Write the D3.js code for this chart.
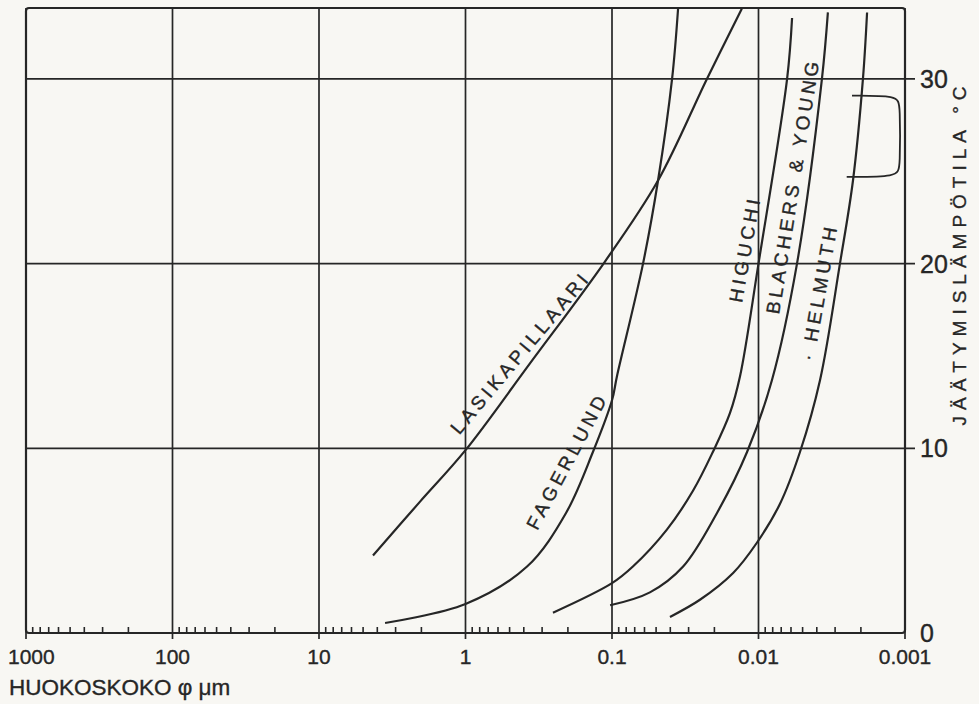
<!DOCTYPE html>
<html>
<head>
<meta charset="utf-8">
<script src="https://cdn.jsdelivr.net/npm/d3@7"></script>
<style>
    body { margin: 0; background: #f8f7f3; }
    svg { display: block; }
    text { font-family: "Liberation Sans", Arial, sans-serif; fill: #262626; stroke: #262626; stroke-width: 0.35px; }
</style>
</head>
<body>
<svg id="chart" width="979" height="704"></svg>
<script>
// pore size (um) on a reversed log axis, freezing temperature (C) on the right
var sizeTicks = [1000, 100, 10, 1, 0.1, 0.01, 0.001];
var sizeLabels = ["1000", "100", "10", "1", "0.1", "0.01", "0.001"];
var tempTicks = [0, 10, 20, 30];

var lasikapillaari = [[4.28, 4.2], [2.05, 7.1], [1.0, 9.9], [0.363, 14.6], [0.112, 20.1], [0.0485, 24.5], [0.0225, 30.0], [0.013, 33.8]];
var fagerlund = [[3.54, 0.54], [1.0, 1.57], [0.38, 3.6], [0.206, 6.5], [0.135, 9.8], [0.1, 12.6], [0.0925, 13.9], [0.0614, 20.0], [0.0485, 24.5], [0.0389, 30.0], [0.0354, 33.8]];
var higuchi = [[0.253, 1.1], [0.1, 2.7], [0.072, 3.6], [0.0422, 5.6], [0.028, 7.7], [0.0205, 9.8], [0.01567, 11.9], [0.01337, 13.9], [0.01, 20.0], [0.00638, 30.0], [0.0059, 33.3]];
var blachersYoung = [[0.103, 1.5], [0.0551, 2.2], [0.0327, 3.6], [0.0192, 6.5], [0.01197, 9.8], [0.00809, 13.7], [0.00546, 20.0], [0.00369, 30.0], [0.00336, 33.6]];
var helmuth = [[0.0402, 0.87], [0.0251, 1.8], [0.0149, 3.25], [0.01023, 4.9], [0.00713, 7.0], [0.00521, 9.8], [0.0038, 13.7], [0.00278, 20.0], [0.002265, 24.5], [0.001937, 30.0], [0.001815, 33.6]];

// hand drawn bracket near the right edge
var bracket = [[0.0023, 29.1], [0.00112, 29.1], [0.00108, 28.6], [0.00108, 25.2], [0.00112, 24.7], [0.0025, 24.7]];

var curveNames = ["LASIKAPILLAARI", "FAGERLUND", "HIGUCHI", "BLACHERS & YOUNG", "· HELMUTH"];
var labelSizes = [0.3895, 0.1846, 0.01118, 0.00526, 0.00348];
var labelTemps = [14.96, 9.15, 20.74, 24.15, 18.4];
var labelAngles = [-50, -62, -80, -81, -80];

var svg = d3.select("#chart");
var ink = "#262626";

var x = d3.scaleLog().domain([1000, 0.001]).range([26, 905]);
var y = d3.scaleLinear().domain([0, 33.84]).range([633, 8]);

var line = d3.line()
    .x(function(d) { return x(d[0]); })
    .y(function(d) { return y(d[1]); })
    .curve(d3.curveCatmullRom.alpha(0.5));

// vertical decade lines, a bit longer than the frame at the bottom
svg.append("g")
    .selectAll("line")
    .data(sizeTicks)
    .enter()
    .append("line")
    .attr("x1", function(d) { return x(d); })
    .attr("x2", function(d) { return x(d); })
    .attr("y1", y(33.84))
    .attr("y2", y(0) + 6)
    .attr("stroke", ink)
    .attr("stroke-width", 1.7)
;

// horizontal lines, running out past the frame as ticks
svg.append("g")
    .selectAll("line")
    .data(tempTicks.filter(function(d) { return d > 0; }))
    .enter()
    .append("line")
    .attr("x1", x(1000))
    .attr("x2", x(0.001) + 10)
    .attr("y1", function(d) { return y(d); })
    .attr("y2", function(d) { return y(d); })
    .attr("stroke", ink)
    .attr("stroke-width", 1.7)
;

// frame
svg.append("rect")
    .attr("x", x(1000))
    .attr("y", y(33.84))
    .attr("width", x(0.001) - x(1000))
    .attr("height", y(0) - y(33.84))
    .attr("rx", 3)
    .attr("fill", "none")
    .attr("stroke", ink)
    .attr("stroke-width", 2.2)
;

// minor log ticks on the bottom edge
var minor = [];
sizeTicks.slice(1).forEach(function(d) {
    for (var k = 2; k <= 9; k++) minor.push(d * k);
});
svg.append("g")
    .selectAll("line")
    .data(minor)
    .enter()
    .append("line")
    .attr("x1", function(d) { return x(d); })
    .attr("x2", function(d) { return x(d); })
    .attr("y1", y(0))
    .attr("y2", y(0) - 6)
    .attr("stroke", ink)
    .attr("stroke-width", 1.6)
;

// curves
var series = [lasikapillaari, fagerlund, higuchi, blachersYoung, helmuth];
svg.append("g")
    .selectAll("path")
    .data(series)
    .enter()
    .append("path")
    .attr("d", line)
    .attr("fill", "none")
    .attr("stroke", ink)
    .attr("stroke-width", 2.2)
;

svg.append("path")
    .attr("d", d3.line()
        .x(function(d) { return x(d[0]); })
        .y(function(d) { return y(d[1]); })
        .curve(d3.curveBasis)(bracket))
    .attr("fill", "none")
    .attr("stroke", ink)
    .attr("stroke-width", 1.8)
;

// curve names
svg.append("g")
    .selectAll("text")
    .data(curveNames)
    .enter()
    .append("text")
    .attr("transform", function(d, i) {
        return "translate(" + x(labelSizes[i]) + "," + y(labelTemps[i]) + ") rotate(" + labelAngles[i] + ")";
    })
    .attr("text-anchor", "middle")
    .style("font-size", "19px")
    .style("letter-spacing", "4px")
    .text(function(d) { return d; })
;

// bottom tick labels
svg.append("g")
    .selectAll("text")
    .data(sizeTicks)
    .enter()
    .append("text")
    .attr("x", function(d, i) { return i === 0 ? 8 : x(d); })
    .attr("y", 664)
    .attr("text-anchor", function(d, i) { return i === 0 ? "start" : "middle"; })
    .style("font-size", "21px")
    .text(function(d, i) { return sizeLabels[i]; })
;

// right tick labels
svg.append("g")
    .selectAll("text")
    .data(tempTicks)
    .enter()
    .append("text")
    .attr("x", x(0.001) + 15)
    .attr("y", function(d) { return y(d) + 9; })
    .style("font-size", "25px")
    .text(function(d) { return d; })
;

svg.append("text")
    .attr("x", 9)
    .attr("y", 695)
    .style("font-size", "22.5px")
    .text("HUOKOSKOKO φ μm")
;

svg.append("text")
    .attr("transform", "translate(966,253) rotate(-90)")
    .attr("text-anchor", "middle")
    .style("font-size", "19px")
    .style("letter-spacing", "6px")
    .text("JÄÄTYMISLÄMPÖTILA °C")
;
</script>
</body>
</html>
